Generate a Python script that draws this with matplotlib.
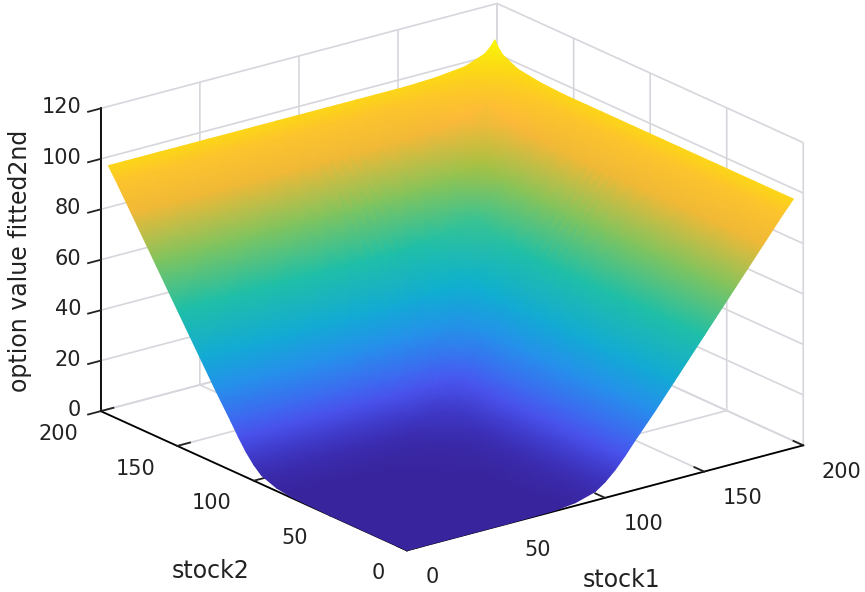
import matplotlib
matplotlib.use("Agg")
import matplotlib.pyplot as plt
import numpy as np
from matplotlib.colors import LinearSegmentedColormap
from mpl_toolkits.mplot3d import proj3d

# stock prices of the table below (surface stops a little short of 200)
stock = [0, 25, 50, 75, 85, 95, 100, 105, 110, 115, 125, 135, 150, 165, 180, 190, 193, 195]

# fitted option value, surface reads the same both ways so only the
# upper triangle is kept: each row starts on the diagonal
upper = [
    [0, 0, 0, 0.3, 1.2, 3.5, 6.3, 10, 14.5, 19.5, 29, 39, 54, 69, 84, 94, 96.8, 98.7],
    [0, 0, 0.4, 1.3, 3.5, 6.3, 10, 14.5, 19.5, 29, 39, 54, 69, 84, 94, 96.8, 98.7],
    [0.2, 0.7, 1.5, 3.7, 6.3, 10, 14.5, 19.5, 29, 39, 54, 69, 84, 94, 96.8, 98.7],
    [1.2, 2, 4, 6.5, 10, 14.5, 19.5, 29, 39, 54, 69, 84, 94, 96.8, 98.7],
    [3, 5, 6.8, 10.2, 14.5, 19.5, 29, 39, 54, 69, 84, 94, 96.8, 98.7],
    [7, 7.8, 10.5, 14.7, 19.5, 29, 39, 54, 69, 84, 94, 96.8, 98.7],
    [9.5, 11.4, 15, 19.7, 29, 39, 54, 69, 84, 94, 96.8, 98.7],
    [13, 15.9, 20, 29.2, 39, 54, 69, 84, 94, 96.8, 98.7],
    [17.5, 21, 29.6, 39.2, 54, 69, 84, 94, 96.8, 98.7],
    [23, 30.8, 39.8, 54.2, 69, 84, 94, 96.8, 98.7],
    [33, 41.2, 54.8, 69.2, 84, 94, 96.8, 98.7],
    [44, 56.2, 69.8, 84.3, 94, 96.8, 98.7],
    [59, 71.2, 85, 94.3, 96.8, 98.7],
    [74, 86.6, 95, 97.2, 99.2],
    [90, 97, 98.5, 100.5],
    [100, 102, 103.5],
    [104.5, 105.8],
    [108],
]

xy_ticks = [0, 50, 100, 150, 200]
z_ticks = [0, 20, 40, 60, 80, 100, 120]

parula = LinearSegmentedColormap.from_list("parula", [
    (0.0, "#38249c"), (0.06, "#3d34c0"), (0.14, "#4a55f0"), (0.25, "#2a8af0"),
    (0.38, "#0fb0d0"), (0.5, "#1fbfa8"), (0.6, "#5cc878"), (0.7, "#b8bf38"),
    (0.75, "#dcba30"), (0.8, "#fdb83c"), (0.87, "#fdc52c"), (0.92, "#fcd815"),
    (1.0, "#f8f808"),
])

W, H = 865, 592
fig = plt.figure(figsize=(W / 100, H / 100), dpi=100)

ax = fig.add_axes([0.0221, -0.048, 0.98, 1.13], projection="3d", proj_type="ortho")
ax.view_init(elev=20.3, azim=-127.35)
ax.set_box_aspect((499, 505, 323), zoom=1.131)
ax.set_xlim(0, 200, view_margin=0)
ax.set_ylim(0, 200, view_margin=0)
ax.set_zlim(0, 120, view_margin=0)
ax.set_xticks(xy_ticks)
ax.set_yticks(xy_ticks)
ax.set_zticks(z_ticks)
ax.tick_params(labelsize=15, colors="#222222")
ax.tick_params(axis="x", pad=7)
ax.tick_params(axis="y", pad=6)
ax.tick_params(axis="z", pad=-1)
plt.setp(ax.get_xticklabels(), ha="left", va="center")
plt.setp(ax.get_yticklabels(), ha="right", va="center")
plt.setp(ax.get_zticklabels(), ha="right", va="center")

for axis in (ax.xaxis, ax.yaxis, ax.zaxis):
    axis.set_pane_color((1, 1, 1, 0))
    axis.pane.set_edgecolor((1, 1, 1, 0))
    axis._axinfo["grid"]["color"] = "#d6d6dc"
    axis._axinfo["grid"]["linewidth"] = 1.2
    axis._axinfo["tick"]["inward_factor"] = 0
    axis._axinfo["tick"]["outward_factor"] = 0.4
    axis._axinfo["tick"]["linewidth"] = {True: 1.3, False: 1.0}
    axis._axinfo["tick"]["color"] = "#444444"
    axis._axinfo["axisline"]["color"] = "#444444"
    axis.line.set_linewidth(1.3)

# z ticks have to point away from the wall
ax.zaxis._axinfo["tick"]["inward_factor"] = 0.4
ax.zaxis._axinfo["tick"]["outward_factor"] = 0

# mirror the triangle into the full table
n = len(stock)
Z = np.zeros((n, n))
for i, row in enumerate(upper):
    Z[i, i:] = row
    Z[i:, i] = row

# surface goes on a clear axes on top so that it can be gouraud shaded
X, Y = np.meshgrid(stock, stock)
px, py, _ = proj3d.proj_transform(X.ravel(), Y.ravel(), Z.ravel(), ax.get_proj())
px = px.reshape(X.shape)
py = py.reshape(X.shape)

over = fig.add_axes([0, 0, 1, 1])
over.axis("off")
over.patch.set_alpha(0)
over.pcolormesh(px, py, Z, shading="gouraud", cmap=parula, vmin=0, vmax=108,
                transform=ax.transData)
over.set_xlim(0, W)
over.set_ylim(H, 0)

over.text(20, 261, "option value fitted2nd", fontsize=17, rotation=90,
          ha="center", va="center", color="#222222")
over.text(211, 571, "stock2", fontsize=17, ha="center", va="center", color="#222222")
over.text(621, 580, "stock1", fontsize=17, ha="center", va="center", color="#222222")

fig.savefig("out.png", dpi=100)
